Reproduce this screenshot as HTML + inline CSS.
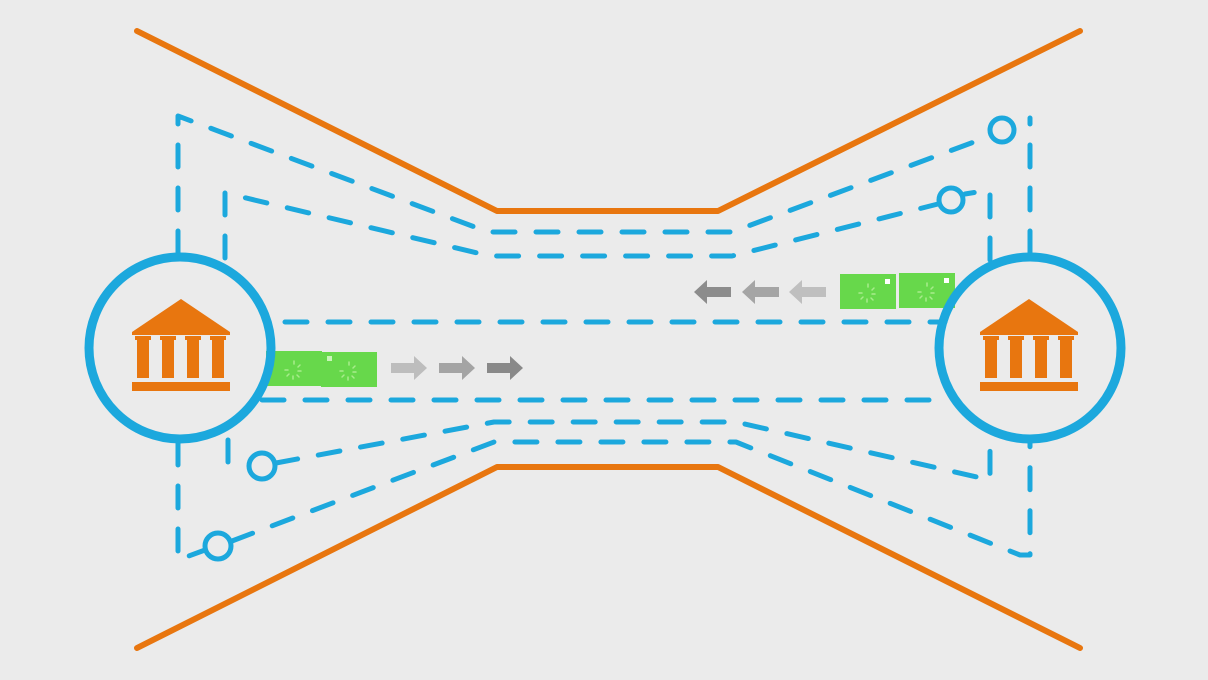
<!DOCTYPE html>
<html><head><meta charset="utf-8"><style>html,body{margin:0;padding:0;background:#ebebeb;}svg{display:block}</style></head>
<body>
<svg width="1208" height="680" viewBox="0 0 1208 680" xmlns="http://www.w3.org/2000/svg">
<rect width="1208" height="680" fill="#ebebeb"/>
<defs>
<g id="bank" fill="#e8760f">
<polygon points="0,-50 -49,-17 -49,-14 49,-14 49,-17"/>
<rect x="-44" y="-12" width="12" height="41"/>
<rect x="-19" y="-12" width="12" height="41"/>
<rect x="6" y="-12" width="12" height="41"/>
<rect x="31" y="-12" width="12" height="41"/>
<rect x="-46" y="-13" width="16" height="4"/><rect x="-21" y="-13" width="16" height="4"/>
<rect x="4" y="-13" width="16" height="4"/><rect x="29" y="-13" width="16" height="4"/>
<rect x="-49" y="33" width="98" height="9"/>
</g>
<g id="card">
<rect x="0" y="0" width="56" height="35" fill="#67d84b"/>
<g stroke="#a8ec8c" stroke-width="1.5" stroke-linecap="round">
<line x1="28" y1="10" x2="28" y2="13"/><line x1="34" y1="14" x2="32" y2="16"/><line x1="35" y1="20" x2="32" y2="20"/>
<line x1="33" y1="26" x2="31" y2="24"/><line x1="27" y1="28" x2="27" y2="25"/><line x1="21" y1="25" x2="23" y2="23"/>
<line x1="19" y1="19" x2="22" y2="19"/></g>
</g>
</defs>
<g fill="none" stroke="#e8760f" stroke-width="6" stroke-linecap="round" stroke-linejoin="round">
<polyline points="137,31 497,211 718,211 1080,31"/>
<polyline points="137,648 497,467 718,467 1080,648"/>
</g>
<g fill="none" stroke="#1ca8dd" stroke-width="5" stroke-linecap="round" stroke-linejoin="round" stroke-dasharray="22 21">
<polyline points="178,253 178,116 488,232 732,232 990,136"/>
<polyline points="225,258 225,193 490,256 732,256 938,204"/>
<line x1="1030" y1="253" x2="1030" y2="118"/>
<polyline points="990,260 990,190 965,194"/>
<line x1="285" y1="322" x2="945" y2="322"/>
<line x1="262" y1="400" x2="950" y2="400"/>
<polyline points="228,440 228,477"/>
<polyline points="276,463 494,422 736,422 990,480 990,440"/>
<polyline points="232,541 494,442 736,442 1020,555 1030,555 1030,443"/>
<polyline points="178,443 178,560 205,550"/>
</g>
<g fill="none" stroke="#1ca8dd" stroke-width="5">
<circle cx="1002" cy="130" r="12"/>
<circle cx="951" cy="200" r="12"/>
<circle cx="262" cy="466" r="13"/>
<circle cx="218" cy="546" r="13"/>
</g>
<use href="#card" x="266" y="351"/>
<use href="#card" x="321" y="352"/>
<rect x="327" y="356" width="5" height="5" fill="#c8f5b8"/>
<use href="#card" x="840" y="274"/>
<use href="#card" x="899" y="273"/>
<rect x="885" y="279" width="5" height="5" fill="#ffffff"/>
<rect x="944" y="278" width="5" height="5" fill="#ffffff"/>
<g>
<polygon points="391,363 414,363 414,356 427,368 414,380 414,373 391,373" fill="#bdbdbd"/>
<polygon points="439,363 462,363 462,356 475,368 462,380 462,373 439,373" fill="#a4a4a4"/>
<polygon points="487,363 510,363 510,356 523,368 510,380 510,373 487,373" fill="#898989"/>
<polygon points="731,287 707,287 707,280 694,292 707,304 707,297 731,297" fill="#8c8c8c"/>
<polygon points="779,287 755,287 755,280 742,292 755,304 755,297 779,297" fill="#a5a5a5"/>
<polygon points="826,287 802,287 802,280 789,292 802,304 802,297 826,297" fill="#bfbfbf"/>
</g>
<circle cx="180" cy="348" r="91" fill="none" stroke="#1ca8dd" stroke-width="9"/>
<circle cx="1030" cy="348" r="91" fill="none" stroke="#1ca8dd" stroke-width="9"/>
<use href="#bank" x="181" y="349"/>
<use href="#bank" x="1029" y="349"/>
</svg>
</body></html>
